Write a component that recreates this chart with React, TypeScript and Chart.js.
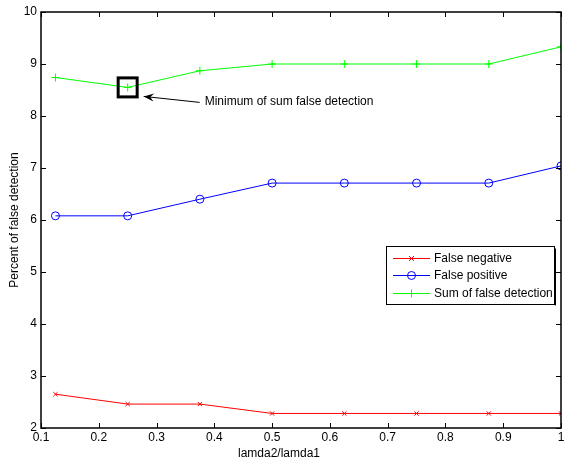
import React, { useEffect, useRef } from "react";
import { Chart, registerables } from "chart.js";

Chart.register(...registerables);

const xValues = [0.125, 0.25, 0.375, 0.5, 0.625, 0.75, 0.875, 1];
const falseNegative = [2.65, 2.46, 2.46, 2.28, 2.28, 2.28, 2.28, 2.28];
const falsePositive = [6.08, 6.08, 6.4, 6.71, 6.71, 6.71, 6.71, 7.04];
const sumFalse = [8.74, 8.55, 8.87, 9.0, 9.0, 9.0, 9.0, 9.33];

const xTicks = [0.1, 0.2, 0.3, 0.4, 0.5, 0.6, 0.7, 0.8, 0.9, 1];
const xTickLabels = ["0.1", "0.2", "0.3", "0.4", "0.5", "0.6", "0.7", "0.8", "0.9", "1"];
const yTicks = [2, 3, 4, 5, 6, 7, 8, 9, 10];
const yTickLabels = ["2", "3", "4", "5", "6", "7", "8", "9", "10"];

const seriesNames = ["False negative", "False positive", "Sum of false detection"];
const seriesColors = ["#ff0000", "#0000ff", "#00ff00"];
const seriesMarkers = ["crossRot", "circle", "cross"];

const minPoint = { x: 0.25, y: 8.55 };
const annotationText = "Minimum of sum false detection";
const xTitle = "lamda2/lamda1";
const yTitle = "Percent of false detection";

const FONT = '12px "Liberation Sans", Arial, sans-serif';

function drawMarker(ctx: CanvasRenderingContext2D, kind: string, x: number, y: number, color: string) {
  ctx.save();
  ctx.strokeStyle = color;
  ctx.lineWidth = 1;
  ctx.beginPath();
  if (kind === "crossRot") {
    const r = 2.5;
    ctx.moveTo(x - r, y - r);
    ctx.lineTo(x + r, y + r);
    ctx.moveTo(x + r, y - r);
    ctx.lineTo(x - r, y + r);
  } else if (kind === "circle") {
    ctx.arc(x, y, 4, 0, Math.PI * 2);
  } else {
    const r = 4;
    ctx.moveTo(x - r, y);
    ctx.lineTo(x + r, y);
    ctx.moveTo(x, y - r);
    ctx.lineTo(x, y + r);
  }
  ctx.stroke();
  ctx.restore();
}

const decorPlugin = {
  id: "decor",
  afterDraw(chart: any) {
    const ctx: CanvasRenderingContext2D = chart.ctx;
    const { left, right, top, bottom } = chart.chartArea;
    const xs = chart.scales.x;
    const ys = chart.scales.y;
    ctx.save();
    // frame
    ctx.strokeStyle = "#000";
    ctx.lineWidth = 1.5;
    ctx.strokeRect(left, top, right - left, bottom - top);
    // ticks
    ctx.lineWidth = 1;
    ctx.beginPath();
    xTicks.forEach((v) => {
      const px = Math.round(xs.getPixelForValue(v)) + 0.5;
      ctx.moveTo(px, bottom);
      ctx.lineTo(px, bottom - 5);
      ctx.moveTo(px, top);
      ctx.lineTo(px, top + 5);
    });
    yTicks.forEach((v) => {
      const py = Math.round(ys.getPixelForValue(v)) + 0.5;
      ctx.moveTo(left, py);
      ctx.lineTo(left + 5, py);
      ctx.moveTo(right, py);
      ctx.lineTo(right - 5, py);
    });
    ctx.stroke();
    // tick labels
    ctx.fillStyle = "#000";
    ctx.font = FONT;
    ctx.textAlign = "center";
    ctx.textBaseline = "top";
    xTicks.forEach((v, i) => {
      ctx.fillText(xTickLabels[i], xs.getPixelForValue(v), bottom + 4);
    });
    ctx.textAlign = "right";
    ctx.textBaseline = "middle";
    yTicks.forEach((v, i) => {
      ctx.fillText(yTickLabels[i], left - 4, ys.getPixelForValue(v));
    });
    // axis titles
    ctx.textAlign = "center";
    ctx.textBaseline = "alphabetic";
    ctx.fillText(xTitle, 279, 457);
    ctx.save();
    ctx.translate(18, 220);
    ctx.rotate(-Math.PI / 2);
    ctx.fillText(yTitle, 0, 0);
    ctx.restore();

    // annotation square
    const mx = xs.getPixelForValue(minPoint.x);
    const my = ys.getPixelForValue(minPoint.y);
    ctx.lineWidth = 3;
    ctx.strokeStyle = "#000";
    ctx.strokeRect(mx - 9.5, my - 9.5, 19, 19);
    // arrow
    const tipX = mx + 16;
    const tipY = my + 9;
    const tailX = mx + 72;
    const tailY = my + 15;
    ctx.lineWidth = 1;
    ctx.beginPath();
    ctx.moveTo(tailX, tailY);
    ctx.lineTo(tipX, tipY);
    ctx.stroke();
    const ang = Math.atan2(tipY - tailY, tipX - tailX);
    const hl = 11;
    const hw = 0.38;
    ctx.beginPath();
    ctx.moveTo(tipX, tipY);
    ctx.lineTo(tipX - hl * Math.cos(ang - hw), tipY - hl * Math.sin(ang - hw));
    ctx.lineTo(tipX - hl * 0.6 * Math.cos(ang), tipY - hl * 0.6 * Math.sin(ang));
    ctx.lineTo(tipX - hl * Math.cos(ang + hw), tipY - hl * Math.sin(ang + hw));
    ctx.closePath();
    ctx.fillStyle = "#000";
    ctx.fill();
    ctx.font = FONT;
    ctx.textAlign = "left";
    ctx.textBaseline = "middle";
    ctx.fillText(annotationText, tailX + 5, tailY - 1);

    // legend
    const lx = 386.5;
    const ly = 246.5;
    const lw = 168;
    const lh = 58;
    ctx.fillStyle = "#fff";
    ctx.fillRect(lx, ly, lw, lh);
    ctx.strokeStyle = "#000";
    ctx.lineWidth = 1;
    ctx.strokeRect(lx, ly, lw, lh);
    ctx.lineWidth = 1;
    ctx.beginPath();
    ctx.moveTo(lx + lw + 1, ly + 2);
    ctx.lineTo(lx + lw + 1, ly + lh + 1);
    ctx.stroke();
    const rows = [258, 275, 293];
    seriesNames.forEach((name, i) => {
      const ry = rows[i] + 0.5;
      ctx.strokeStyle = seriesColors[i];
      ctx.lineWidth = 1;
      ctx.beginPath();
      ctx.moveTo(393, ry);
      ctx.lineTo(430, ry);
      ctx.stroke();
      drawMarker(ctx, seriesMarkers[i], 411.5, ry, seriesColors[i]);
      ctx.fillStyle = "#000";
      ctx.font = FONT;
      ctx.textAlign = "left";
      ctx.textBaseline = "middle";
      ctx.fillText(name, 434, ry);
    });
    ctx.restore();
  },
};

export default function App() {
  const ref = useRef<HTMLCanvasElement | null>(null);
  useEffect(() => {
    document.body.style.margin = "0";
    const canvas = ref.current;
    if (!canvas) return;
    const allSeries = [falseNegative, falsePositive, sumFalse];
    const chart = new Chart(canvas, {
      type: "line",
      data: {
        datasets: allSeries.map((vals, i) => ({
          label: seriesNames[i],
          data: xValues.map((x, j) => ({ x, y: vals[j] })),
          borderColor: seriesColors[i],
          backgroundColor: seriesColors[i],
          borderWidth: 1,
          pointStyle: seriesMarkers[i] as any,
          pointRadius: i === 0 ? 3 : 4,
          pointBorderWidth: 1,
          pointBackgroundColor: i === 1 ? "rgba(0,0,0,0)" : seriesColors[i],
          pointBorderColor: seriesColors[i],
          tension: 0,
          fill: false,
        })),
      },
      options: {
        animation: false,
        responsive: false,
        maintainAspectRatio: false,
        layout: { padding: { left: 41, top: 12, right: 1, bottom: 35 } },
        plugins: { legend: { display: false }, tooltip: { enabled: false } },
        scales: {
          x: { type: "linear", min: 0.1, max: 1, display: false },
          y: { type: "linear", min: 2, max: 10, display: false },
        },
      },
      plugins: [decorPlugin],
    });
    return () => chart.destroy();
  }, []);
  return (
    <div style={{ position: "absolute", left: 0, top: 0, width: 566, height: 463, background: "#fff" }}>
      <canvas ref={ref} width={566} height={463} style={{ width: 566, height: 463 }} />
    </div>
  );
}
